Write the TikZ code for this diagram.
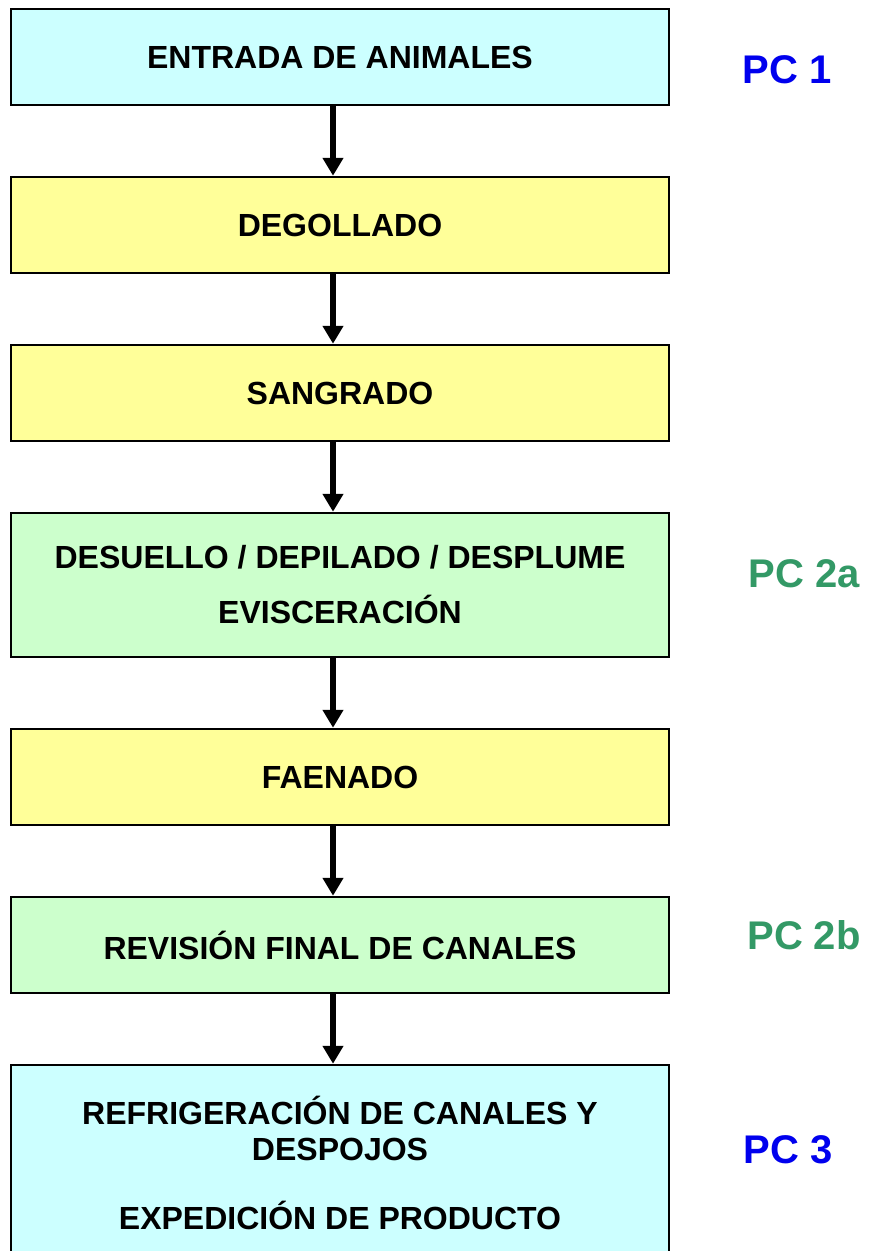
\documentclass[tikz,border=0pt]{standalone}
\usepackage{fontspec}
\setmainfont{Liberation Sans}
\usetikzlibrary{arrows.meta}
\definecolor{cyanbox}{HTML}{CCFFFF}
\definecolor{yellowbox}{HTML}{FFFF99}
\definecolor{greenbox}{HTML}{CCFFCC}
\definecolor{pcblue}{HTML}{0000EE}
\definecolor{pcgreen}{HTML}{339966}
\begin{document}
\begin{tikzpicture}[x=1pt,y=-1pt,
  stepbox/.style={draw=black,line width=2.5pt,minimum width=658pt,minimum height=96pt,
     inner sep=0pt,align=center,font=\fontsize{32}{36}\selectfont\bfseries},
  pclabel/.style={font=\fontsize{40}{46}\selectfont\bfseries},
  flow/.style={line width=5.5pt,-{Triangle[width=20pt,length=18pt]}}]
\useasboundingbox (0,0) rectangle (871,1251);
\fill[white] (0,0) rectangle (871,1251);
\node[stepbox,fill=cyanbox] (b1) at (340,57) {ENTRADA DE ANIMALES};
\node[stepbox,fill=yellowbox] (b2) at (340,225) {DEGOLLADO};
\node[stepbox,fill=yellowbox] (b3) at (340,393) {SANGRADO};
\node[stepbox,fill=greenbox,minimum height=144pt] (b4) at (340,585) {DESUELLO / DEPILADO / DESPLUME\\[19pt]EVISCERACIÓN};
\node[stepbox,fill=yellowbox] (b5) at (340,777) {FAENADO};
\node[stepbox,fill=greenbox] (b6) at (340,945) {REVISIÓN FINAL DE CANALES};
\node[stepbox,fill=cyanbox,minimum height=196pt] (b7) at (340,1163) {REFRIGERACIÓN DE CANALES Y\\DESPOJOS\\[33pt]EXPEDICIÓN DE PRODUCTO};
\coordinate (ax) at (333,0);
\draw[flow] (b1.south -| ax) -- (b2.north -| ax);
\draw[flow] (b2.south -| ax) -- (b3.north -| ax);
\draw[flow] (b3.south -| ax) -- (b4.north -| ax);
\draw[flow] (b4.south -| ax) -- (b5.north -| ax);
\draw[flow] (b5.south -| ax) -- (b6.north -| ax);
\draw[flow] (b6.south -| ax) -- (b7.north -| ax);
\node[pclabel,text=pcblue] (pc1) at (787,70) {PC 1};
\node[pclabel,text=pcgreen] (pc2a) at (804,574) {PC 2a};
\node[pclabel,text=pcgreen] (pc2b) at (804,935) {PC 2b};
\node[pclabel,text=pcblue] (pc3) at (788,1150) {PC 3};
\end{tikzpicture}
\end{document}
